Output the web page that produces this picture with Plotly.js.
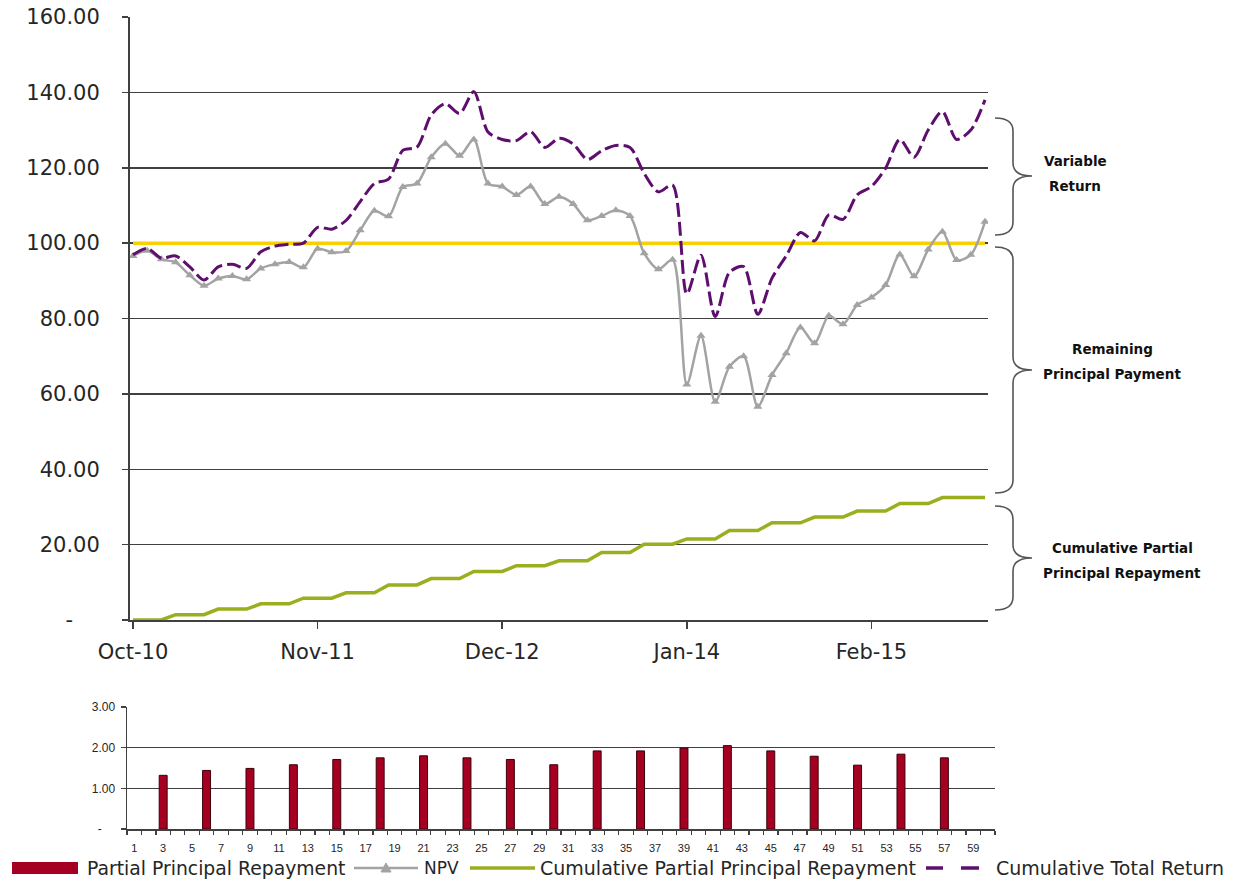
<!DOCTYPE html>
<html><head><meta charset="utf-8">
<script src="https://cdn.plot.ly/plotly-3.0.1.min.js"></script>
<style>html,body{margin:0;padding:0;background:#fff}#chart{width:1233px;height:881px}</style>
</head><body><div id="chart"></div>
<script>
// ---------- DATA ----------
const months = ['Oct-10','Nov-10','Dec-10','Jan-11','Feb-11','Mar-11','Apr-11','May-11','Jun-11','Jul-11','Aug-11','Sep-11',
  'Oct-11','Nov-11','Dec-11','Jan-12','Feb-12','Mar-12','Apr-12','May-12','Jun-12','Jul-12','Aug-12','Sep-12',
  'Oct-12','Nov-12','Dec-12','Jan-13','Feb-13','Mar-13','Apr-13','May-13','Jun-13','Jul-13','Aug-13','Sep-13',
  'Oct-13','Nov-13','Dec-13','Jan-14','Feb-14','Mar-14','Apr-14','May-14','Jun-14','Jul-14','Aug-14','Sep-14',
  'Oct-14','Nov-14','Dec-14','Jan-15','Feb-15','Mar-15','Apr-15','May-15','Jun-15','Jul-15','Aug-15','Sep-15','Oct-15'];

const npv = [96.6,98.0,95.7,94.9,91.5,88.7,90.6,91.3,90.4,93.3,94.4,95.0,
  93.6,98.5,97.6,97.9,103.4,108.6,107.1,114.9,115.8,122.8,126.4,123.2,
  127.5,115.8,115.0,112.8,115.0,110.4,112.3,110.4,106.1,107.2,108.7,107.2,
  97.3,93.1,95.6,62.5,75.4,57.9,67.2,70.0,56.6,65.0,70.8,77.6,
  73.4,80.7,78.5,83.6,85.6,88.9,97.0,91.2,98.3,103.0,95.5,96.9,105.7];

const cumulativeTotalReturn = [96.9,98.6,96.0,96.6,93.7,90.2,93.7,94.4,93.3,97.7,99.2,99.7,
  100.0,104.2,103.7,106.0,111.0,115.8,117.0,124.6,125.5,134.0,137.0,134.4,
  140.2,129.5,127.5,127.2,129.6,125.4,127.8,126.3,122.2,124.5,125.9,125.4,
  118.5,113.6,115.4,86.5,96.8,80.5,92.2,93.8,81.1,90.7,96.6,102.8,
  100.6,107.5,106.3,112.8,115.0,119.9,127.5,122.8,130.0,134.9,127.5,130.0,138.0];

const cumulativePartialRepayment = [0,0,0,1.4,1.4,1.4,2.9,2.9,2.9,4.3,4.3,4.3,
  5.8,5.8,5.8,7.2,7.2,7.2,9.3,9.3,9.3,11.0,11.0,11.0,
  12.9,12.9,12.9,14.4,14.4,14.4,15.7,15.7,15.7,17.9,17.9,17.9,
  20.1,20.1,20.1,21.5,21.5,21.5,23.75,23.75,23.75,25.8,25.8,25.8,
  27.3,27.3,27.3,28.9,28.9,28.9,30.9,30.9,30.9,32.5,32.5,32.5,32.5];

const parLevel = 100;

const repaymentPeriods = [3,6,9,12,15,18,21,24,27,30,33,36,39,42,45,48,51,54,57];
const partialRepayment = [1.32,1.44,1.49,1.58,1.71,1.75,1.80,1.75,1.71,1.58,1.92,1.92,1.99,2.05,1.92,1.79,1.57,1.84,1.75];

const mainXTicks = ['Oct-10','Nov-11','Dec-12','Jan-14','Feb-15'];
const mainYTicks = [0,20,40,60,80,100,120,140,160];
const mainYTickText = ['-\u00a0\u00a0\u00a0\u00a0','20.00','40.00','60.00','80.00','100.00','120.00','140.00','160.00'];
const barXTicks = [1,3,5,7,9,11,13,15,17,19,21,23,25,27,29,31,33,35,37,39,41,43,45,47,49,51,53,55,57,59];
const barYTicks = [0,1,2,3];
const barYTickText = ['-\u00a0\u00a0\u00a0\u00a0','1.00','2.00','3.00'];

const legendNames = ['Partial Principal Repayment','NPV','Cumulative Partial Principal Repayment','Cumulative Total Return'];
const braceLabels = [['Variable','Return'],['Remaining','Principal Payment'],['Cumulative Partial','Principal Repayment']];

// ---------- STYLE ----------
const W = 1233, H = 881;
const px = x => x / W;
const py = y => 1 - y / H;
const FONT = 'DejaVu Sans';
const TXT = '#262626';
const GRID = '#404040';
const C_BAR = '#A50021', C_NPV = '#A3A3A3', C_CUM = '#9BAE1E', C_TR = '#5E0F6E', C_PAR = '#F7D000';

const traces = [
  {x: [months[0], months[months.length-1]], y: [parLevel, parLevel], type: 'scatter', mode: 'lines',
   line: {color: C_PAR, width: 3.5}, hoverinfo: 'skip', showlegend: false, xaxis: 'x', yaxis: 'y'},
  {x: months, y: cumulativePartialRepayment, type: 'scatter', mode: 'lines', name: legendNames[2],
   line: {color: C_CUM, width: 3.5}, showlegend: false, xaxis: 'x', yaxis: 'y'},
  {x: months, y: npv, type: 'scatter', mode: 'lines+markers', name: legendNames[1],
   line: {color: C_NPV, width: 2.5, shape: 'spline', smoothing: 0.8},
   marker: {symbol: 'triangle-up', size: 8, color: C_NPV}, showlegend: false, xaxis: 'x', yaxis: 'y'},
  {x: months, y: cumulativeTotalReturn, type: 'scatter', mode: 'lines', name: legendNames[3],
   line: {color: C_TR, width: 3, shape: 'spline', smoothing: 0.8, dash: '14px,5px'}, showlegend: false, xaxis: 'x', yaxis: 'y'},
  {x: repaymentPeriods, y: partialRepayment, type: 'bar', name: legendNames[0], width: 0.55,
   marker: {color: C_BAR, line: {color: '#3a0008', width: 1}}, showlegend: false, xaxis: 'x2', yaxis: 'y2'}
];

// braces
function bracePath(x0, xm, xt, yt, ymid, yb, r) {
  const P = (x, y) => px(x).toFixed(5) + ',' + py(y).toFixed(5);
  return 'M' + P(x0, yt) + ' Q' + P(xm, yt) + ' ' + P(xm, yt + r) +
    ' L' + P(xm, ymid - r) + ' Q' + P(xm, ymid) + ' ' + P(xt, ymid) +
    ' Q' + P(xm, ymid) + ' ' + P(xm, ymid + r) +
    ' L' + P(xm, yb - r) + ' Q' + P(xm, yb) + ' ' + P(x0, yb);
}
const braceGeom = [
  {yt: 118, ym: 176, yb: 235, tx: 1075, ty: [161, 186]},
  {yt: 247, ym: 370, yb: 493, tx: 1112, ty: [349, 374]},
  {yt: 506, ym: 558, yb: 610, tx: 1122, ty: [548, 573]}
];
const shapes = [];
const annotations = [];
braceGeom.forEach((b, i) => {
  shapes.push({type: 'path', xref: 'paper', yref: 'paper',
    path: bracePath(995, 1013, 1032, b.yt, b.ym, b.yb, 13), line: {color: '#555', width: 1.6}});
  braceLabels[i].forEach((t, j) => {
    annotations.push({xref: 'paper', yref: 'paper', x: px(b.tx), y: py(b.ty[j]), text: '<b>' + t + '</b>',
      showarrow: false, xanchor: 'center', yanchor: 'middle', font: {family: FONT, size: 13.5, color: '#111'}});
  });
});

// custom legend
const LY = 868;
shapes.push({type: 'rect', xref: 'paper', yref: 'paper', x0: px(12), x1: px(78), y0: py(874), y1: py(862),
  fillcolor: C_BAR, line: {width: 0}});
shapes.push({type: 'line', xref: 'paper', yref: 'paper', x0: px(354), x1: px(418), y0: py(LY), y1: py(LY),
  line: {color: C_NPV, width: 2.5}});
shapes.push({type: 'path', xref: 'paper', yref: 'paper',
  path: 'M' + px(381) + ',' + py(872) + ' L' + px(391) + ',' + py(872) + ' L' + px(386) + ',' + py(863) + ' Z',
  fillcolor: C_NPV, line: {color: C_NPV, width: 1}});
shapes.push({type: 'line', xref: 'paper', yref: 'paper', x0: px(470), x1: px(535), y0: py(LY), y1: py(LY),
  line: {color: C_CUM, width: 3.5}});
shapes.push({type: 'line', xref: 'paper', yref: 'paper', x0: px(926), x1: px(943), y0: py(LY), y1: py(LY),
  line: {color: C_TR, width: 3.5}});
shapes.push({type: 'line', xref: 'paper', yref: 'paper', x0: px(961), x1: px(979), y0: py(LY), y1: py(LY),
  line: {color: C_TR, width: 3.5}});
[[85, 0, 18.8], [422, 1, 17], [538, 2, 19], [994, 3, 19]].forEach(([x, k, s]) => {
  annotations.push({xref: 'paper', yref: 'paper', x: px(x), y: py(LY), text: legendNames[k], showarrow: false,
    xanchor: 'left', yanchor: 'middle', font: {family: FONT, size: s, color: TXT}});
});

const layout = {
  width: W, height: H, margin: {l: 0, r: 0, t: 0, b: 0},
  paper_bgcolor: '#fff', plot_bgcolor: '#fff', showlegend: false, bargap: 0,
  font: {family: FONT, color: TXT},
  xaxis: {domain: [px(130), px(988)], type: 'category', categoryorder: 'array', categoryarray: months,
    range: [-0.211, 60.211],
    tickmode: 'array', tickvals: mainXTicks, ticktext: mainXTicks,
    ticks: 'outside', ticklen: 7, tickwidth: 1.5, tickcolor: GRID, ticklabelstandoff: 5,
    showgrid: false, zeroline: false, showline: true, linecolor: GRID, linewidth: 2,
    tickfont: {family: FONT, size: 21, color: TXT}, anchor: 'y', fixedrange: true},
  yaxis: {domain: [py(620), py(17)], range: [0, 160], tickmode: 'array', tickvals: mainYTicks, ticktext: mainYTickText,
    ticks: 'outside', ticklen: 6, tickwidth: 1.5, tickcolor: GRID, ticklabelstandoff: 18,
    showgrid: true, gridcolor: GRID, gridwidth: 1.5, zeroline: false, showline: true, linecolor: GRID, linewidth: 2,
    tickfont: {family: FONT, size: 21, color: TXT}, anchor: 'x', fixedrange: true},
  xaxis2: {domain: [px(127), px(995)], range: [0.5, 60.5], tickmode: 'array', tickvals: barXTicks,
    ticks: '', ticklabelstandoff: 8, showgrid: false, zeroline: false, showline: true, linecolor: GRID, linewidth: 1.5,
    minor: {tick0: 0.5, dtick: 1, ticks: 'outside', ticklen: 4, tickwidth: 1.2, tickcolor: GRID, showgrid: false},
    tickfont: {family: 'Liberation Sans', size: 11, color: TXT}, anchor: 'y2', fixedrange: true},
  yaxis2: {domain: [py(829), py(707)], range: [0, 3], tickmode: 'array', tickvals: barYTicks, ticktext: barYTickText,
    ticks: 'outside', ticklen: 5, tickwidth: 1.2, tickcolor: GRID, ticklabelstandoff: 3,
    showgrid: true, gridcolor: GRID, gridwidth: 1.5, zeroline: false, showline: true, linecolor: GRID, linewidth: 1.5,
    tickfont: {family: 'Liberation Sans', size: 12, color: TXT}, anchor: 'x2', fixedrange: true},
  shapes: shapes,
  annotations: annotations
};

Plotly.newPlot('chart', traces, layout, {displayModeBar: false, staticPlot: true});
</script></body></html>
